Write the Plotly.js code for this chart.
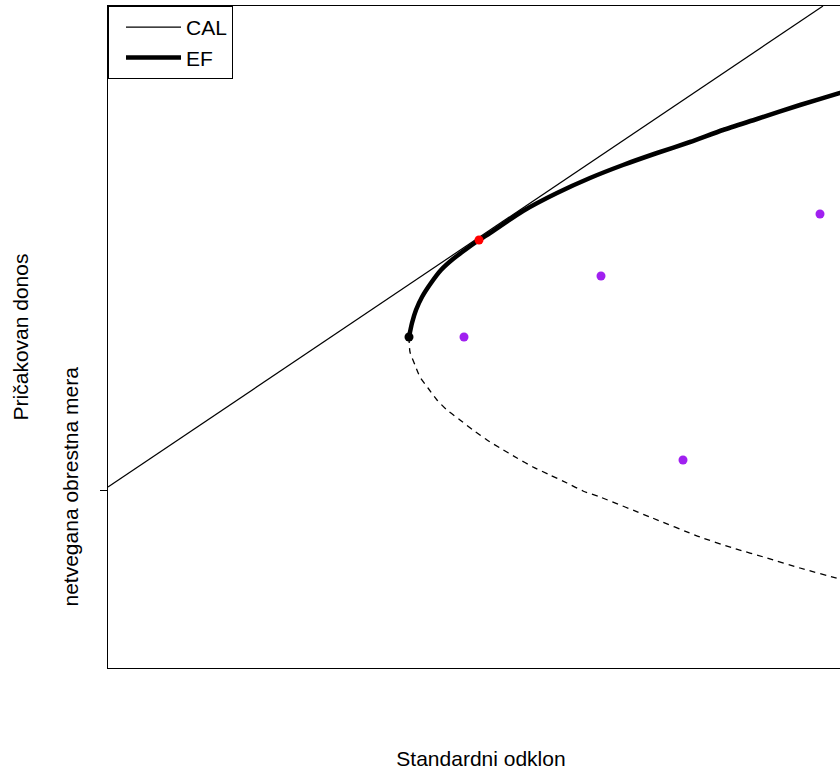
<!DOCTYPE html>
<html>
<head>
<meta charset="utf-8">
<script src="https://cdn.plot.ly/plotly-3.0.1.min.js"></script>
<style>
html,body{margin:0;padding:0;overflow:hidden;background:#fff;}
#chart{width:860px;height:771px;}
</style>
</head>
<body>
<div id="chart"></div>
<script>
// Standard deviation (x) and expected return (y)
const efUpperSd  = [3.01,3.04,3.08,3.14,3.23,3.33,3.45,3.57,3.71,3.82,4.15,4.49,4.82,5.15,5.49,5.82,6.15,6.49,6.92,7.32,7.52];
const efUpperRet = [3.53,3.67,3.80,3.93,4.07,4.20,4.31,4.40,4.50,4.57,4.79,4.97,5.12,5.25,5.37,5.48,5.60,5.71,5.85,5.97,6.03];

const efLowerSd  = [3.01,3.02,3.07,3.12,3.20,3.29,3.39,3.52,3.65,3.79,3.92,4.09,4.25,4.42,4.59,4.75,4.92,5.42,5.92,6.25,6.59,6.92,7.32,7.52];
const efLowerRet = [3.53,3.38,3.25,3.13,3.02,2.90,2.80,2.70,2.60,2.50,2.42,2.32,2.23,2.15,2.07,1.99,1.93,1.73,1.53,1.42,1.32,1.22,1.11,1.06];

const calSd  = [0.00, 7.15];
const calRet = [2.03, 6.84];

const assetSd  = [3.56, 4.93, 7.12, 5.75];
const assetRet = [3.53, 4.14, 4.76, 2.30];

const minVarSd = [3.01], minVarRet = [3.53];
const tangSd = [3.71], tangRet = [4.50];

const riskFree = 2.0;
const yTickLabel = "netvegana obrestna mera";
const xRange = [0, 7.46];
const yRange = [0.22, 6.84];

const FONT = '"Liberation Sans", Arial, sans-serif';

const traces = [
  {x: calSd, y: calRet, mode: 'lines', name: 'CAL',
   line: {color: '#000', width: 1.2}, showlegend: true},
  {x: efUpperSd, y: efUpperRet, mode: 'lines', name: 'EF',
   line: {color: '#000', width: 4.5, shape: 'spline', smoothing: 0.6}, showlegend: true},
  {x: efLowerSd, y: efLowerRet, mode: 'lines', name: 'lower',
   line: {color: '#000', width: 1.3, dash: '6px,5px', shape: 'spline', smoothing: 0.6}, showlegend: false},
  {x: assetSd, y: assetRet, mode: 'markers', name: 'assets',
   marker: {color: '#A020F0', size: 9}, showlegend: false},
  {x: minVarSd, y: minVarRet, mode: 'markers', name: 'min var',
   marker: {color: '#000', size: 9}, showlegend: false},
  {x: tangSd, y: tangRet, mode: 'markers', name: 'tangency',
   marker: {color: '#FF0000', size: 9}, showlegend: false}
];

const layout = {
  width: 860, height: 771,
  margin: {l: 108, r: 6, t: 6, b: 103},
  paper_bgcolor: '#fff', plot_bgcolor: '#fff',
  font: {family: FONT, size: 21, color: '#000'},
  showlegend: true,
  legend: {x: 0, y: 1, xanchor: 'left', yanchor: 'top',
           bordercolor: '#000', borderwidth: 1, bgcolor: '#fff',
           font: {family: FONT, size: 21, color: '#000'},
           itemwidth: 55, indentation: 12, tracegroupgap: 0},
  xaxis: {range: xRange, showgrid: false, zeroline: false,
          showline: true, mirror: true, linecolor: '#000', linewidth: 1,
          ticks: '', showticklabels: false,
          title: {text: 'Standardni odklon', font: {family: FONT, size: 21}, standoff: 83}},
  yaxis: {range: yRange, showgrid: false, zeroline: false,
          showline: true, mirror: true, linecolor: '#000', linewidth: 1,
          ticks: 'outside', ticklen: 7, tickcolor: '#000', tickwidth: 1,
          tickvals: [riskFree], ticktext: [yTickLabel], tickangle: -90,
          ticklabelstandoff: 14,
          tickfont: {family: FONT, size: 21},
          title: {text: 'Pričakovan donos', font: {family: FONT, size: 21}, standoff: 24}}
};

Plotly.newPlot('chart', traces, layout, {displayModeBar: false, staticPlot: true});
</script>
</body>
</html>
